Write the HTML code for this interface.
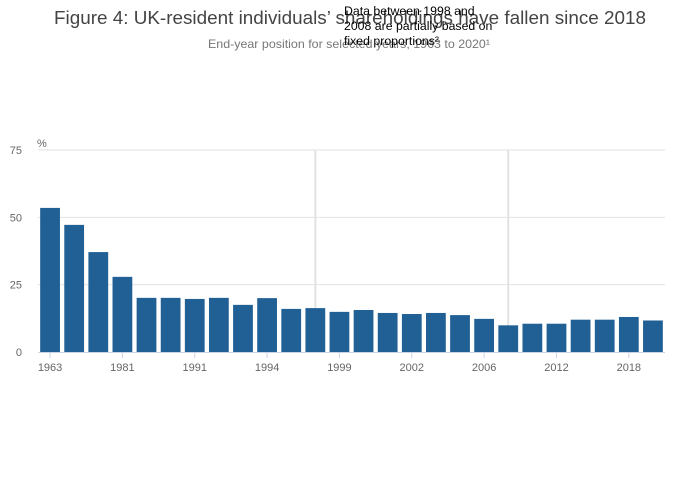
<!DOCTYPE html>
<html><head><meta charset="utf-8"><style>
body{margin:0;background:#fff;font-family:"Liberation Sans",sans-serif}
svg{display:block}
</style></head><body>
<svg id="chart" width="700" height="502">
<text x="350" y="24" text-anchor="middle" font-size="18" fill="#444" textLength="592" lengthAdjust="spacingAndGlyphs">Figure 4: UK-resident individuals’ shareholdings have fallen since 2018</text>
<text x="349" y="48" text-anchor="middle" font-size="12" fill="#777" textLength="282" lengthAdjust="spacingAndGlyphs">End-year position for selected years, 1963 to 2020¹</text>
<text x="37" y="147" font-size="11" fill="#666">%</text>
<g id="grid"></g><g id="bars"></g><g id="xaxis"></g>
<g font-size="12.3" fill="#000">
<text x="344" y="15">Data between 1998 and</text>
<text x="344" y="30">2008 are partially based on</text>
<text x="344" y="45">fixed proportions²</text>
</g>
</svg>
<script>
const categories=["1963","1969","1975","1981","1989","1990","1991","1992","1993","1994","1997","1998","1999","2000","2001","2002","2003","2004","2006","2008","2010","2012","2014","2016","2018","2020"];
const values=[53.5,47.2,37.1,27.9,20.1,20.1,19.7,20.1,17.5,20,16,16.3,14.9,15.6,14.5,14.1,14.5,13.7,12.3,9.9,10.5,10.5,12,12,13,11.7];
const yTicks=[0,25,50,75];
const xTickLabels=["1963","1981","1991","1994","1999","2002","2006","2012","2018"];
const markerCats=["1998","2008"];
const NS="http://www.w3.org/2000/svg";
const L=38,R=665,T=150,B=352,yMax=75;
const pitch=(R-L)/categories.length,bw=pitch*0.82;
const y=v=>B-(v/yMax)*(B-T);
const xc=c=>L+categories.indexOf(c)*pitch+pitch/2;
function mk(t,a,p){const e=document.createElementNS(NS,t);for(const k in a)e.setAttribute(k,a[k]);p.appendChild(e);return e;}
const grid=document.getElementById('grid'),bars=document.getElementById('bars'),xa=document.getElementById('xaxis');
yTicks.forEach(v=>{
 if(v>0){const l=mk('line',{x1:L,x2:R,y1:y(v),y2:y(v),stroke:'#e2e2e2','stroke-width':1},grid);
 
 }
 const t=mk('text',{x:22,y:y(v)+4,'font-size':11,fill:'#666','text-anchor':'end'},grid);t.textContent=v;
 
 
});
markerCats.forEach(c=>{const l=mk('line',{x1:xc(c),x2:xc(c),y1:T,y2:B,stroke:'#e2e2e2','stroke-width':2},grid);
 
 });
categories.forEach((c,i)=>{
 const r=mk('rect',{x:xc(c)-bw/2,y:y(values[i]),width:bw,height:B-y(values[i]),fill:'#206095'},bars);
 
 
});
const ax=mk('line',{x1:L,x2:R,y1:B+0.5,y2:B+0.5,stroke:'#c8d3e6','stroke-width':1},xa);


xTickLabels.forEach(c=>{
 const x=xc(c);
 mk('line',{x1:x,x2:x,y1:B,y2:B+6,stroke:'#c8d3e6'},xa);
 const t=mk('text',{x:x,y:B+19,'font-size':11,fill:'#666','text-anchor':'middle'},xa);t.textContent=c;
 
 
});
</script>
</body></html>
